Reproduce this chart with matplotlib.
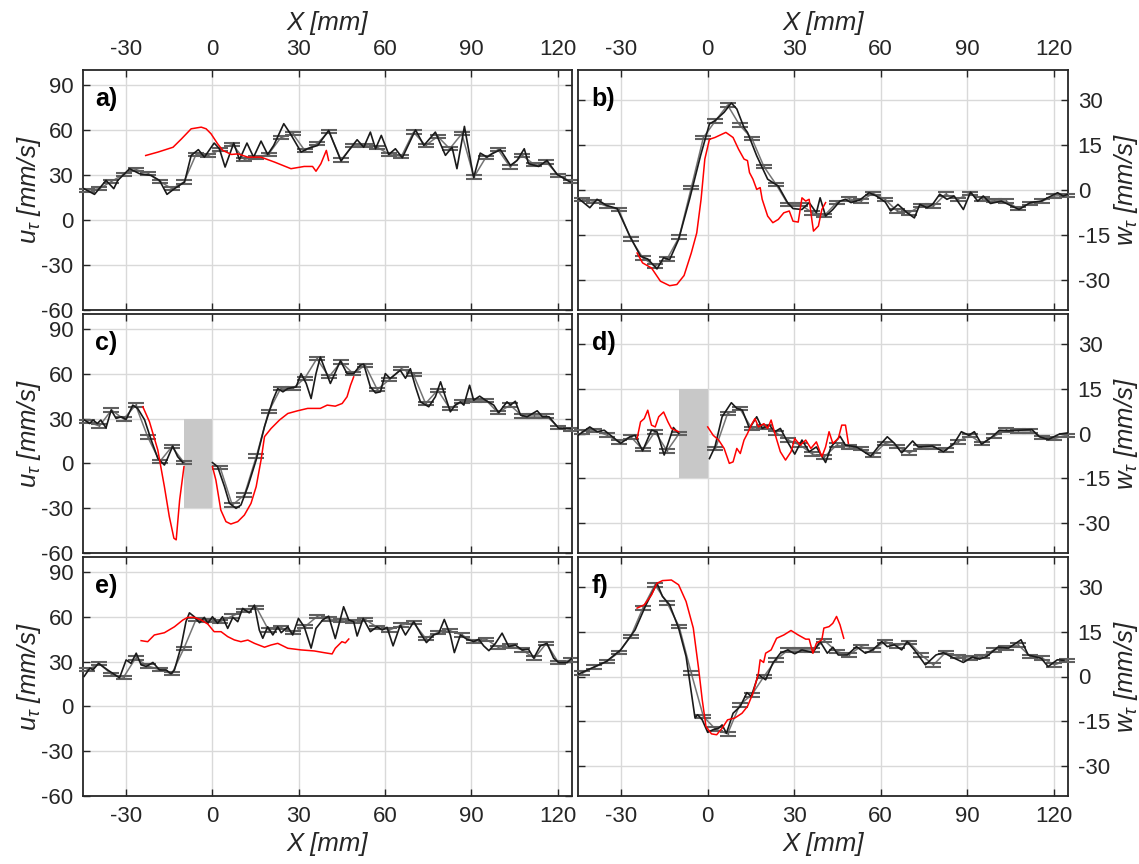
import numpy as np
import matplotlib
matplotlib.use("Agg")
import matplotlib.pyplot as plt

plt.rcParams['font.family'] = ['Liberation Sans', 'DejaVu Sans']
plt.rcParams['mathtext.fontset'] = 'custom'
plt.rcParams['mathtext.it'] = 'Liberation Sans:italic'
plt.rcParams['mathtext.rm'] = 'Liberation Sans'
plt.rcParams['axes.unicode_minus'] = False

nan = np.nan

# ---------------- data ----------------
X_TICKS = [-30, 0, 30, 60, 90, 120]
U_TICKS = [-60, -30, 0, 30, 60, 90]
W_TICKS = [-30, -15, 0, 15, 30]
X_LIM = (-45, 125)
U_LIM = (-60, 100)
W_LIM = (-40, 40)

# stations of the averaged values (error bars)
XE = [-43.5, -39.3, -35.1, -30.9, -26.7, -22.5, -18.3, -14.1, -9.9, -5.7,
      -1.5, 2.7, 6.9, 11.1, 15.3, 19.5, 23.7, 27.9, 32.1, 36.3,
      40.5, 44.7, 48.9, 53.1, 57.3, 61.5, 65.7, 69.9, 74.1, 78.3,
      82.5, 86.7, 90.9, 95.1, 99.3, 103.5, 107.7, 111.9, 116.1, 120.3, 124.5]
ERR_U = 1.1
ERR_W = 0.6

A_ERR = [19.7, 20.9, 25.7, 30.4, 33.7, 31.2, 25.7, 20.9, 25.3, 43.7,
         43.0, 46.9, 50.5, 40.5, 41.5, 43.9, 54.8, 57.5, 46.4, 50.8,
         59.0, 40.1, 49.7, 49.7, 48.5, 43.7, 42.4, 58.6, 49.7, 55.7,
         47.5, 57.5, 28.6, 41.9, 46.9, 35.3, 43.1, 36.9, 38.6, 29.7, 25.7]
A_BLACK = [(-44.7, 20.9), (-41, 17.1), (-37, 26.4), (-34.3, 20.9), (-32.9, 26.4), (-28.8, 34.2),
           (-25.4, 30.9), (-21.3, 29.7), (-18.4, 26.4), (-15.8, 17.1), (-13.2, 20.9), (-9.7, 25.3),
           (-7.4, 43), (-4.9, 46.9), (-2.8, 41.9), (0.6, 51.3), (2.4, 47.6), (4.4, 35.3), (7.4, 51.3),
           (9.4, 40.2), (12.0, 51.3), (14.3, 41.9), (16.9, 52.6), (19.2, 43.7), (21.3, 49.7),
           (24.8, 64.2), (27.1, 57.5), (30.8, 45.3), (33.1, 47.6), (36.6, 49.7), (40.4, 59.7),
           (44.7, 39.3), (47.4, 46.4), (50.3, 53.5), (52.6, 48.5), (54.9, 58.6), (56.7, 47.5),
           (58.7, 56.4), (61.3, 43.7), (63.6, 47.5), (66, 41.5), (70.6, 60.1), (73.5, 49.7),
           (77.5, 58.6), (81, 43.1), (83.3, 48.5), (85, 34.2), (87.6, 62.4), (90.8, 28.2),
           (93.1, 44.6), (95.5, 41.9), (97.2, 44.1), (100.1, 46.9), (103.6, 36.4), (105.9, 39.7),
           (108.4, 47.5), (109.9, 37.5), (113.4, 35.7), (116.3, 39.7), (119.8, 30.4), (124.4, 25.3)]
A_RED = [(-23.2, 43), (-18.9, 45.3), (-13.7, 48.5), (-10.8, 54), (-7.4, 60.8), (-3.9, 61.9),
         (-2.2, 60.8), (-0.5, 57.5), (1.8, 50.8), (3.6, 46.4), (6.6, 43.7), (8.9, 44.1),
         (12.3, 41.9), (16.9, 41.9), (21.6, 38.6), (27.3, 34.2), (31.9, 35.7), (34.8, 35.7),
         (36, 32.5), (37.7, 37.5), (39.6, 46.4), (40.4, 39.7)]

B_ERR = [-3.1, -3.8, -5.4, -6.5, -16.3, -22.6, -25.4, -23.0, -15.7, 0.8,
         17.5, 23.1, 28.3, 21.6, 17.2, 7.8, 1.9, -4.8, -4.8, -7.6,
         -8.5, -4.2, -2.9, -3.7, -1.1, -3.1, -7.0, -7.6, -5.1, -5.4,
         -1.4, -3.1, -1.1, -2.9, -3.5, -3.7, -6.2, -4.5, -3.7, -2.0, -1.8]
B_BLACK = [(-44.7, -2.9), (-40.9, -5.9), (-38.4, -3.1), (-35.2, -5.1), (-31.4, -6.2), (-27, -15.4),
           (-23.3, -22.1), (-20.8, -23.0), (-17.6, -26.3), (-15.3, -22.6), (-13.2, -23.2),
           (-10.1, -16.5), (-6.3, -3.1), (-2.5, 11.4), (0.6, 22), (2.5, 23.1), (5.7, 25.9),
           (8.2, 29), (10.1, 27), (12.6, 20.8), (13.8, 19.2), (17, 11.4), (20.8, 3.6), (24.5, 1.3),
           (27.7, -4.2), (29.6, -6.2), (32.7, -6.5), (35.2, -4.2), (37.7, -7.6), (39, -2.6),
           (40.9, -8.7), (43.4, -6.5), (45.9, -3.7), (47.8, -3.1), (49.7, -4.2), (52.8, -3.3),
           (56, -0.9), (58.5, -2), (61.6, -4), (63.5, -7), (66, -4.8), (69.2, -7.6), (71.7, -9.3),
           (73.6, -4.8), (76.1, -5.9), (78, -4.8), (80.5, -1.4), (83, -3.1), (85.5, -2),
           (88.7, -6.5), (91.2, -0.7), (93.7, -3.7), (95.6, -2), (98.1, -4.5), (101.9, -3.7),
           (108, -6.5), (111.9, -4.2), (115.7, -3.7), (121.4, -0.9), (123.3, -2), (125, -1.4)]
B_RED = [(-24.5, -21), (-22.6, -24.3), (-19.5, -26), (-16.4, -30.4), (-13.2, -31.9), (-10.7, -31.5),
         (-8.2, -28.5), (-5.7, -21), (-3.8, -14.3), (-2.3, -3.1), (-1, 10.3), (0.6, 16.9),
         (2.5, 17.5), (6.3, 19.2), (8.8, 17.5), (10.7, 13.6), (12.6, 10.3), (13.8, 9.8),
         (14.5, 5.8), (15.7, 3.6), (17, 0.2), (18.2, 0.8), (18.9, -3.1), (20.8, -8.7),
         (22.6, -10.9), (24.5, -9.8), (26.4, -7.6), (28.3, -7), (29.6, -10.4), (31.4, -10.7),
         (32.7, -2.6), (34, -3.7), (35.2, -3.1), (36.2, -10.4), (36.7, -13.7), (38.4, -12),
         (39.6, -6.5), (40.9, -4.2)]

C_ERR = [27.9, 25.0, 35.7, 29.7, 39.0, 17.7, 1.2, 11.2, 0.5, nan,
         nan, -2.9, -27.9, -21.2, 4.9, 34.5, 50.1, 50.1, 57.0, 70.1,
         58.0, 67.9, 60.1, 65.7, 49.4, 56.1, 63.4, 59.4, 40.1, 49.0,
         36.8, 41.2, 42.3, 42.3, 33.9, 39.0, 31.7, 31.7, 31.7, 24.1, 22.8]
C_BLACK = [(-44.5, 29), (-42.7, 26.7), (-41.5, 29), (-40, 26.7), (-38.8, 29), (-37, 23.8),
           (-35.2, 35.7), (-33.5, 30.1), (-31.7, 31.2), (-30, 29.4), (-27.7, 39), (-26, 36.8),
           (-23.6, 29.2), (-21.3, 15.7), (-19, 3.4), (-16.7, -1.1), (-15.6, 3.4), (-13.8, 11.6),
           (-12.1, 4.5), (-10.3, 0.5), (-5, nan), (0, 0.5), (1.8, -2.2), (4.2, -15.6),
           (5.9, -26.7), (8.2, -30.1), (9.9, -27.9), (12.3, -15.6), (15.2, 2.3), (18.1, 24.6),
           (21, 42.3), (22.7, 50.1), (24.5, 47.9), (26.2, 50.1), (29.1, 51.2), (30.8, 60.1),
           (32.6, 53.5), (34.3, 43.4), (36, 60.1), (37.5, 71.2), (41, 53.5), (44.5, 68.7),
           (46.8, 60.1), (49.1, 60.1), (51.4, 65.7), (52.6, 66.4), (54.9, 51.2), (56.7, 47.2),
           (58.4, 47.9), (60.1, 60.1), (61.8, 56.8), (65.3, 62.3), (67.1, 57), (68.8, 63.4),
           (70.6, 51.2), (72.3, 41.2), (75.2, 37.9), (77.5, 44.6), (79.3, 54.6), (80.6, 46.8),
           (82.7, 34.5), (84.4, 39), (86.2, 41.2), (87.4, 39), (89.4, 52.3), (90.8, 42.3),
           (92.9, 45), (94.9, 42.3), (97.8, 39), (99.5, 33.9), (102.4, 41.2), (103.6, 39),
           (105.3, 41.6), (107.1, 32.3), (109.4, 31.2), (112.9, 35.2), (114.7, 31.2), (117, 31.2),
           (120.4, 23.4), (124.4, 23.4)]
C_RED = [(-24.2, 37.9), (-21.9, 27.9), (-19, 9), (-16.7, -15.6), (-15, -35.6), (-13.4, -50.1),
         (-12.6, -51.2), (-11.4, -24.5), (-9.9, -2.2), (-5, nan), (0, -2.2), (1.2, -11.2),
         (2.9, -31.2), (4.7, -39), (6.4, -40.6), (8.8, -39), (11.1, -34.6), (13.4, -26.8),
         (15.2, -15.6), (16.9, 2.3), (18.1, 17.9), (20.4, 23.4), (23.3, 29), (26.2, 33.4),
         (29.6, 35.2), (33.1, 36.8), (37.5, 36.8), (39.9, 39), (42.7, 38.3), (45.1, 40.1),
         (46.8, 44.6), (48, 52.3), (49.1, 57.9)]

D_ERR = [0.6, 1.0, -0.5, -2.8, -1.1, -5.4, 0.6, -5.8, 0.0, nan,
         nan, -5.0, 6.7, 8.4, 1.7, 2.2, 0.2, -2.2, -3.9, -6.9,
         -7.8, -3.9, -4.5, -5.0, -7.2, -3.3, -4.3, -6.5, -4.5, -4.5,
         -5.6, -2.8, -0.6, -3.3, -0.9, 1.1, 0.9, 0.9, -1.3, -1.7, -0.6]
D_BLACK = [(-45, -0.6), (-40.9, 2.2), (-38.4, 0.6), (-35.9, 1.1), (-30.2, -3.3), (-27, -1.1),
           (-25.2, -0.6), (-22.6, -5.8), (-19.5, 1.1), (-17.6, 0.6), (-15.1, -7.2), (-11.9, 2),
           (-10.1, 0), (-5, nan), (0.6, -8.4), (2.5, -4.5), (5, 5.6), (8.2, 10.3), (10.1, 8.4),
           (12, 7.8), (14.5, 1.7), (17, 5.6), (18.9, 1.7), (21.4, 2.8), (23.3, 0.6), (25.2, 1.7),
           (27.7, -2.8), (30.2, -6.9), (32.7, -2.2), (35.2, -6.1), (37.7, -4.5), (40.9, -9.7),
           (42.8, -4.5), (45.9, -0.9), (47.8, -3.9), (51.6, -4.5), (56.6, -7.6), (59.1, -4.5),
           (62.3, -1.1), (64.8, -3.3), (67.3, -6.5), (71.1, -2.5), (73, -4.5), (78, -4.2),
           (81.8, -6.1), (85.5, -3.3), (88, 0.6), (90.6, -0.6), (92.5, 0.6), (95, -3.6),
           (98.7, -1.1), (101.2, 1.1), (104.3, 0.9), (108.1, 1.1), (112.5, 1.3), (115.1, -1.1),
           (118.2, -2), (122, -0.2), (124.9, 0.2)]
D_RED = [(-24.5, -1.7), (-23.3, 3.9), (-22, 5), (-20.8, 7.8), (-19.5, 2.8), (-18.2, 2.2),
         (-17, 5.6), (-15.3, 7.2), (-13.8, 3.9), (-12.6, 1.7), (-11.3, 1.1), (-10.1, 0.6),
         (-5, nan), (0, 2.2), (1.9, -0.6), (3.8, -2.2), (5.7, -5), (7.5, -10), (8.8, -9.5),
         (10.1, -5), (11.3, -6.7), (12.6, -2.2), (13.8, 0), (15.1, 2.8), (16.4, 5), (17.6, 2.2),
         (19.5, 3.3), (20.8, 1.7), (22, 4.5), (23.3, 0), (25.2, -6.1), (27, -8.9), (28.9, -6.1),
         (30.2, -1.7), (32.1, -3.9), (34, -2.2), (35.8, -5), (37.7, -2.8), (39.6, -7.8),
         (40.9, -4.5), (42.1, 0.6), (43.4, -3.3), (45.3, -1.7), (46.5, 2.8), (47.8, 2.8),
         (48.8, -3.3)]

E_ERR = [24.5, 28.5, 21.5, 19.5, 32.3, 27.1, 24.5, 21.8, 38.9, 58.2,
         57.3, 56.7, 60.5, 64.0, 66.2, 51.1, 52.9, 49.3, 53.3, 60.0,
         58.5, 57.4, 56.7, 58.2, 52.9, 51.1, 54.4, 56.0, 45.6, 49.4,
         50.7, 47.8, 43.4, 45.0, 39.6, 40.5, 37.8, 32.3, 42.2, 29.3, 31.1]
E_BLACK = [(-44.6, 20.1), (-42.6, 25.6), (-41.5, 24.5), (-39.6, 28.8), (-36.3, 24.2), (-32.3, 19.1),
           (-30, 31.1), (-28.3, 28.8), (-26.5, 35.6), (-24.8, 27.8), (-23, 26.7), (-20.7, 29.4),
           (-18.4, 24.4), (-16.1, 24.4), (-14.4, 21.8), (-13.2, 24.4), (-10.9, 40.1), (-9.2, 56.7),
           (-8, 62.6), (-6.3, 60), (-4.5, 56), (-2.8, 59.6), (-1.6, 55.6), (0, 60), (1.8, 55.6),
           (3.5, 60), (5.3, 52.2), (7.1, 59.6), (8.8, 56.7), (10.5, 65.6), (12.8, 62.6),
           (14.6, 67.8), (16.3, 51.1), (17.5, 45.6), (19.2, 53.3), (21, 47.8), (22.7, 53.3),
           (23.9, 49.3), (26.2, 53.3), (27.9, 47.8), (29.9, 58.9), (31.9, 53.3), (34.3, 39),
           (36, 52.2), (38.3, 57.8), (40.4, 60.4), (42.7, 45.4), (45.6, 66.7), (47.4, 57.8),
           (49.1, 56.7), (50.3, 47.1), (52.4, 58.9), (54.9, 50), (57.2, 53.3), (59, 51.1),
           (60.7, 52.9), (62.8, 40.5), (65.3, 54.4), (67.1, 47.8), (70, 56.7), (72.3, 48.9),
           (74.4, 42.7), (76.9, 47.8), (78.7, 49), (80.6, 58.2), (82.7, 47.8), (84.1, 36),
           (86.2, 47.8), (88.5, 44.9), (90.8, 43.4), (92.6, 44.9), (94.3, 40.5), (96.1, 37.3),
           (98.4, 42.2), (100.7, 49), (103, 40.1), (105.3, 41.1), (107.6, 37.8), (109.9, 38.2),
           (111.7, 32.3), (114, 40.5), (116.3, 42.2), (118.6, 32.3), (120.4, 29.3), (123.3, 29.3),
           (125, 32.3)]
E_RED = [(-24.8, 44), (-22.5, 43.3), (-20.2, 47.8), (-16.7, 49.3), (-13.2, 53.3), (-10.3, 57.8),
         (-8.6, 59.6), (-6.3, 59.6), (-3.9, 57.8), (-1.6, 55.1), (0.6, 50), (3, 50), (5.3, 46.7),
         (7.6, 44.5), (9.9, 43.3), (12.3, 44.4), (14.6, 42.2), (18.1, 39.6), (20.4, 41.1),
         (22.7, 42.2), (26.2, 38.9), (30.8, 37.8), (35.4, 37.1), (38.7, 36), (41.6, 35.1),
         (42.7, 38.9), (45, 43.3), (46.2, 42.5), (47.4, 45.1)]

F_ERR = [1.1, 3.1, 5.0, 8.0, 13.4, 22.9, 30.7, 24.7, 16.7, 1.1,
         -13.4, -17.6, -19.2, -9.5, -6.1, 0.0, 5.6, 8.9, 8.9, 8.9,
         12.0, 8.4, 7.2, 10.0, 8.9, 11.7, 10.3, 11.4, 7.2, 3.9,
         8.0, 6.7, 6.1, 6.7, 8.9, 9.5, 10.6, 6.7, 6.1, 3.9, 5.4]
F_BLACK = [(-45.3, 0.6), (-40.3, 2.8), (-35.2, 5), (-30.2, 8.9), (-25.2, 15.6), (-21.4, 24),
           (-17.6, 31.2), (-15.7, 26.8), (-13.2, 24), (-10.1, 16.2), (-7.5, 6.7), (-4.4, -13.9),
           (-3.5, -12.8), (-1.9, -14.5), (0, -18.7), (1.9, -17.8), (3.8, -17.3), (5, -16.2),
           (6.5, -19), (8.8, -12.3), (11.3, -10), (13.6, -5.4), (15.1, -6.7), (17.6, 0.6),
           (20.1, -1.1), (22.6, 4.5), (25.2, 7.8), (27.7, 8.9), (30.2, 7.6), (32.7, 8.9),
           (36.5, 8), (39, 11.7), (41.5, 7.8), (43.4, 9.8), (45.3, 7.2), (48.4, 7.2), (51.6, 10),
           (54.7, 7.8), (57.2, 8.9), (60.4, 11.7), (62.3, 10), (64.8, 10.6), (67.3, 8.9),
           (69.2, 11.7), (71.7, 8.9), (75.5, 3.9), (79.2, 7.2), (81.8, 8), (84.3, 6.7),
           (88.7, 4.7), (91.8, 6.5), (94.3, 5.8), (96.8, 6.7), (100.6, 9.8), (104.4, 9.5),
           (108.7, 12.3), (111.2, 7.2), (115.7, 6.1), (118.1, 3.3), (121.3, 5.6), (123.6, 5.4)]
F_RED = [(-24.5, 22.9), (-22.0, 24.0), (-19.5, 27.3), (-17.6, 31.2), (-15.7, 32.1), (-12.6, 32.3),
         (-10.1, 30.7), (-7.5, 25.1), (-5, 16.2), (-3.1, 2.2), (-1.9, -7.8), (-0.6, -16.7),
         (1.3, -19.2), (3.1, -19.5), (5, -17.3), (6.9, -14.5), (9.4, -13.9), (11.9, -12.3),
         (13.8, -10), (15.7, -5.6), (17.6, 1.1), (18.2, 5.6), (19.4, 4.7), (20.1, 7.8),
         (22, 8.9), (23.9, 12.8), (26.4, 13.9), (28.9, 15.4), (31.4, 13.9), (34, 12.5),
         (35.2, 12.5), (36.5, 7.8), (37.7, 11.1), (39.6, 12.3), (40.3, 16.2), (42.1, 16.7),
         (43.4, 17.8), (44.7, 20.1), (45.9, 17.3), (47.2, 12.8)]

# grey blocked region in panels c) and d)
BOX_X = [-10, 0]
BOX_C = (-30, 30)
BOX_D = (-15, 15)

PANELS = [
    ("a)", A_ERR, A_BLACK, A_RED, None, "u"),
    ("b)", B_ERR, B_BLACK, B_RED, None, "w"),
    ("c)", C_ERR, C_BLACK, C_RED, BOX_C, "u"),
    ("d)", D_ERR, D_BLACK, D_RED, BOX_D, "w"),
    ("e)", E_ERR, E_BLACK, E_RED, None, "u"),
    ("f)", F_ERR, F_BLACK, F_RED, None, "w"),
]

# ---------------- figure ----------------
W, H = 1139, 864
fig = plt.figure(figsize=(W / 100, H / 100), dpi=100)
cols = [(83, 489), (578, 490)]
rows = [(70, 310), (314, 553), (557, 796)]

FRAME = '#262626'
for k, (lab, err, blk, red, box, kind) in enumerate(PANELS):
    r, c = divmod(k, 2)
    x0, w = cols[c]
    t, b = rows[r]
    ax = fig.add_axes([x0 / W, 1 - b / H, w / W, (b - t) / H])
    ax.set_xlim(*X_LIM)
    ax.set_xticks(X_TICKS)
    if kind == "u":
        ax.set_ylim(*U_LIM)
        ax.set_yticks(U_TICKS)
        e = ERR_U
    else:
        ax.set_ylim(*W_LIM)
        ax.set_yticks(W_TICKS)
        e = ERR_W
    ax.grid(True, color='#d9d9d9', lw=1.0, zorder=0)
    ax.set_axisbelow(True)

    if box is not None:
        ax.fill_between(BOX_X, box[0], box[1], color='#c8c8c8', lw=0, zorder=1)

    ye = np.array(err, dtype=float)
    ax.plot(XE, ye, color='#757575', lw=1.1, zorder=2)
    ax.errorbar(XE, ye, yerr=e, fmt='none', ecolor='#606060', elinewidth=1.0,
                capsize=6.0, capthick=1.5, zorder=3, clip_on=False)
    bx, by = zip(*blk)
    ax.plot(bx, by, color='#1a1a1a', lw=1.2, zorder=4)
    rx, ry = zip(*red)
    ax.plot(rx, ry, color='#ff0000', lw=1.1, zorder=5)

    ax.text(0.025 if c == 0 else 0.028, 0.93, lab, transform=ax.transAxes,
            fontsize=18, fontweight='bold', va='top', ha='left', color='black', zorder=6)

    for s in ax.spines.values():
        s.set_color(FRAME)
        s.set_linewidth(1.3)
    ax.tick_params(direction='in', length=5, width=1.0, top=True, right=True,
                   labelsize=16, colors=FRAME, pad=7)
    ax.tick_params(labelbottom=(r == 2), labeltop=(r == 0))
    if c == 0:
        ax.tick_params(labelleft=True, labelright=False)
        ax.set_ylabel(r'$u_\tau$ [mm/s]', fontsize=18.5, fontstyle='italic', color=FRAME)
        ax.yaxis.set_label_coords(-0.082, 0.5)
    else:
        ax.tick_params(labelleft=False, labelright=True)
        ax.yaxis.set_label_position('right')
        ax.set_ylabel(r'$w_\tau$ [mm/s]', fontsize=18.5, fontstyle='italic', color=FRAME,
                      rotation=90, va='top')
        ax.yaxis.set_label_coords(1.09, 0.5)
    if r == 0:
        ax.xaxis.set_label_position('top')
        ax.set_xlabel('X [mm]', fontsize=18.5, fontstyle='italic', color=FRAME, labelpad=7)
    elif r == 2:
        ax.set_xlabel('X [mm]', fontsize=18.5, fontstyle='italic', color=FRAME, labelpad=4)

fig.savefig('out.png', dpi=100)
